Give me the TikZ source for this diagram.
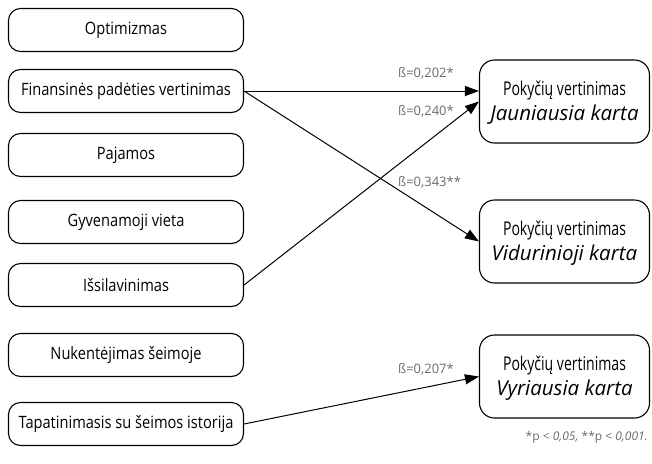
\documentclass[tikz,border=0pt]{standalone}
\usepackage{fontspec}
\setmainfont{Open Sans}
\newfontfamily\condfont[FakeStretch=0.86]{Open Sans}
\newfontfamily\rcondfont[FakeStretch=0.74]{Open Sans}
\usetikzlibrary{arrows.meta}
\definecolor{labgray}{HTML}{6A6A6A}
\tikzset{
  lbox/.style={draw, line width=1.1pt, rounded corners=12pt, minimum width=235pt, minimum height=43pt, inner sep=0pt, font=\condfont\fontsize{17}{19}\selectfont},
  rbox/.style={draw, line width=1.1pt, rounded corners=15pt, minimum width=170pt, minimum height=83pt, inner sep=0pt},
  rtop/.style={anchor=base, inner sep=0pt, font=\rcondfont\fontsize{19}{22}\selectfont},
  rbot/.style={anchor=base, inner sep=0pt, font=\fontsize{20.5}{23}\selectfont\itshape},
  conn/.style={line width=1pt, -{Triangle[length=14pt,width=10pt]}},
  lab/.style={text=labgray, font=\fontsize{13}{15}\selectfont, inner sep=0pt}
}
\begin{document}
\begin{tikzpicture}[x=1pt,y=-1pt]
\useasboundingbox (0,0) rectangle (652,463);
\node[lbox] (opt) at (126,30) {Optimizmas};
\node[lbox] (fin) at (126,91) {Finansinės padėties vertinimas};
\node[lbox] (paj) at (126,155) {Pajamos};
\node[lbox] (gyv) at (126,222) {Gyvenamoji vieta};
\node[lbox] (iss) at (126,285) {Išsilavinimas};
\node[lbox] (nuk) at (126,355) {Nukentėjimas šeimoje};
\node[lbox] (tap) at (126,424) {Tapatinimasis su šeimos istorija};
\node[rbox] (jau) at (564.5,101.5) {};
\node[rbox] (vid) at (564.5,241.5) {};
\node[rbox] (vyr) at (564.5,376.5) {};
\node[rtop] (jau1) at ([yshift=6.5pt]jau.center) {Pokyčių vertinimas};
\node[rbot] (jau2) at ([yshift=-18.5pt]jau.center) {Jauniausia karta};
\node[rtop] (vid1) at ([yshift=6.5pt]vid.center) {Pokyčių vertinimas};
\node[rbot] (vid2) at ([yshift=-18.5pt]vid.center) {Vidurinioji karta};
\node[rtop] (vyr1) at ([yshift=6.5pt]vyr.center) {Pokyčių vertinimas};
\node[rbot] (vyr2) at ([yshift=-18.5pt]vyr.center) {Vyriausia karta};
\draw[conn] (fin.east) -- (fin.east -| jau.west);
\draw[conn] (fin.east) -- (vid.west);
\draw[conn] (iss.east) -- (jau.west);
\draw[conn] (tap.east) -- (vyr.west);
\node[lab, anchor=west] (l1) at (398,73) {ß=0,202*};
\node[lab, anchor=west] (l2) at (398,111) {ß=0,240*};
\node[lab, anchor=west] (l3) at (398,182) {ß=0,343**};
\node[lab, anchor=west] (l4) at (398,369) {ß=0,207*};
\node[lab, anchor=east, font=\fontsize{12}{14}\selectfont] (fn) at (648,437) {*p < \textit{0,05,} **p < \textit{0,001.}};
\end{tikzpicture}
\end{document}
